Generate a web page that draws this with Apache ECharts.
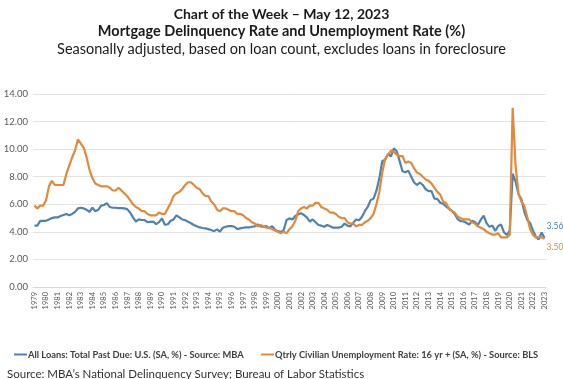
<!DOCTYPE html>
<html>
<head>
<meta charset="utf-8">
<script src="https://cdn.jsdelivr.net/npm/echarts@6/dist/echarts.min.js"></script>
<style>html,body{margin:0;padding:0;background:#fff}#c{width:563px;height:379px}</style>
</head>
<body>
<div id="c"></div>
<script>
// Quarterly data, 1979Q1 .. 2023Q1
var firstYear = 1979;
var lastYear = 2023;
var yTicks = [0, 2, 4, 6, 8, 10, 12, 14];

// MBA delinquency rate (All loans, total past due, SA, %)
var delinquency = [
  4.45, 4.45, 4.80, 4.80,   // 1979
  4.80, 4.90, 5.00, 5.05,   // 1980
  5.05, 5.15, 5.22, 5.30,   // 1981
  5.20, 5.30, 5.45, 5.70,   // 1982
  5.75, 5.70, 5.60, 5.46,   // 1983
  5.75, 5.50, 5.60, 5.90,   // 1984
  5.95, 6.08, 5.80, 5.75,   // 1985
  5.75, 5.72, 5.72, 5.70,   // 1986
  5.65, 5.40, 5.05, 4.75,   // 1987
  4.90, 4.86, 4.86, 4.70,   // 1988
  4.72, 4.74, 4.56, 4.70,   // 1989
  4.98, 4.52, 4.55, 4.80,   // 1990
  4.90, 5.20, 5.05, 4.90,   // 1991
  4.85, 4.74, 4.62, 4.50,   // 1992
  4.40, 4.32, 4.28, 4.25,   // 1993
  4.20, 4.13, 4.05, 4.18,   // 1994
  4.02, 4.30, 4.37, 4.42,   // 1995
  4.42, 4.37, 4.20, 4.25,   // 1996
  4.30, 4.32, 4.32, 4.37,   // 1997
  4.40, 4.54, 4.40, 4.37,   // 1998
  4.42, 4.25, 4.42, 4.15,   // 1999
  4.05, 4.00, 4.13, 4.86,   // 2000
  4.98, 4.90, 5.15, 5.27,   // 2001
  5.35, 5.22, 5.05, 4.75,   // 2002
  4.90, 4.70, 4.50, 4.45,   // 2003
  4.37, 4.50, 4.40, 4.30,   // 2004
  4.30, 4.30, 4.37, 4.60,   // 2005
  4.45, 4.40, 4.67, 4.90,   // 2006
  4.84, 5.10, 5.50, 5.82,   // 2007
  6.30, 6.41, 6.99, 7.88,   // 2008
  9.12, 9.24, 9.64, 9.47,   // 2009
  10.06, 9.85, 9.13, 8.40,  // 2010
  8.32, 8.44, 7.99, 7.58,   // 2011
  7.40, 7.58, 7.40, 7.09,   // 2012
  6.95, 6.96, 6.41, 6.39,   // 2013
  6.11, 6.04, 5.85, 5.68,   // 2014
  5.54, 5.30, 4.93, 4.77,   // 2015
  4.77, 4.66, 4.52, 4.80,   // 2016
  4.71, 4.50, 4.88, 5.17,   // 2017
  4.63, 4.36, 4.47, 4.06,   // 2018
  4.42, 4.53, 3.97, 3.77,   // 2019
  4.10, 8.22, 7.65, 6.73,   // 2020
  6.38, 5.47, 4.88, 4.65,   // 2021
  4.11, 3.64, 3.45, 3.96,   // 2022
  3.56                      // 2023
];

// Quarterly civilian unemployment rate, 16 yr + (SA, %)
var unemployment = [
  5.9, 5.7, 5.9, 5.9,   // 1979
  6.3, 7.3, 7.7, 7.4,   // 1980
  7.4, 7.4, 7.4, 8.2,   // 1981
  8.8, 9.4, 9.9, 10.7,  // 1982
  10.4, 10.1, 9.4, 8.5, // 1983
  7.9, 7.5, 7.4, 7.3,   // 1984
  7.3, 7.3, 7.2, 7.0,   // 1985
  7.0, 7.2, 7.0, 6.8,   // 1986
  6.6, 6.3, 6.0, 5.8,   // 1987
  5.7, 5.5, 5.5, 5.3,   // 1988
  5.2, 5.2, 5.2, 5.4,   // 1989
  5.3, 5.3, 5.7, 6.1,   // 1990
  6.6, 6.8, 6.9, 7.1,   // 1991
  7.4, 7.6, 7.6, 7.4,   // 1992
  7.2, 7.1, 6.8, 6.6,   // 1993
  6.6, 6.2, 6.0, 5.6,   // 1994
  5.5, 5.7, 5.7, 5.6,   // 1995
  5.5, 5.5, 5.3, 5.3,   // 1996
  5.2, 5.0, 4.9, 4.7,   // 1997
  4.6, 4.4, 4.5, 4.4,   // 1998
  4.3, 4.3, 4.2, 4.1,   // 1999
  4.0, 3.9, 4.0, 3.9,   // 2000
  4.2, 4.4, 4.8, 5.5,   // 2001
  5.7, 5.8, 5.7, 5.9,   // 2002
  5.9, 6.1, 6.1, 5.8,   // 2003
  5.7, 5.6, 5.4, 5.4,   // 2004
  5.3, 5.1, 5.0, 5.0,   // 2005
  4.7, 4.6, 4.6, 4.4,   // 2006
  4.5, 4.5, 4.7, 4.8,   // 2007
  5.0, 5.3, 6.0, 6.9,   // 2008
  8.3, 9.3, 9.6, 9.9,   // 2009
  9.8, 9.6, 9.5, 9.5,   // 2010
  9.0, 9.1, 9.0, 8.6,   // 2011
  8.3, 8.2, 8.0, 7.8,   // 2012
  7.7, 7.5, 7.2, 6.9,   // 2013
  6.7, 6.2, 6.1, 5.7,   // 2014
  5.5, 5.4, 5.1, 5.0,   // 2015
  4.9, 4.9, 4.9, 4.7,   // 2016
  4.6, 4.4, 4.3, 4.2,   // 2017
  4.0, 3.9, 3.8, 3.8,   // 2018
  3.9, 3.6, 3.6, 3.6,   // 2019
  3.8, 13.0, 8.8, 6.8,  // 2020
  6.2, 5.9, 5.1, 4.2,   // 2021
  3.8, 3.6, 3.6, 3.6,   // 2022
  3.5                   // 2023
];

var seriesNames = [
  'All Loans: Total Past Due: U.S. (SA, %) - Source: MBA',
  'Qtrly Civilian Unemployment Rate: 16 yr + (SA, %) - Source: BLS'
];

var categories = [];
for (var y = firstYear; y <= lastYear; y++) {
  for (var q = 1; q <= 4; q++) {
    if (y === lastYear && q > 1) break;
    categories.push(String(y) + '-Q' + q);
  }
}

var BLUE = '#4d82b3';
var ORANGE = '#e2893a';
var FONT = 'Lato, "Open Sans", sans-serif';
var legendText = {fontFamily: FONT, fontSize: 9.3, fontWeight: 'bold', color: '#404040', padding: [0, 0, 0, -4]};

var chart = echarts.init(document.getElementById('c'), null, {renderer: 'canvas'});
chart.setOption({
  animation: false,
  backgroundColor: '#ffffff',
  title: [
    {text: 'Chart of the Week – May 12, 2023', left: 'center', top: 2,
      textStyle: {fontFamily: FONT, fontSize: 14, fontWeight: 'bold', color: '#1a1a1a'}},
    {text: 'Mortgage Delinquency Rate and Unemployment Rate (%)', left: 'center', top: 19,
      textStyle: {fontFamily: FONT, fontSize: 14.5, fontWeight: 'bold', color: '#1a1a1a'}},
    {text: 'Seasonally adjusted, based on loan count, excludes loans in foreclosure', left: 'center', top: 37,
      textStyle: {fontFamily: FONT, fontSize: 14.5, fontWeight: 'normal', color: '#1a1a1a'}},
    {text: 'Source: MBA\u2019s National Delinquency Survey; Bureau of Labor Statistics', left: 2, top: 363,
      textStyle: {fontFamily: FONT, fontSize: 11.5, fontWeight: 'normal', color: '#333333'}}
  ],
  legend: [
    {left: 9, top: 345, itemWidth: 13, itemHeight: 2, icon: 'rect',
      textStyle: legendText, data: [seriesNames[0]]},
    {left: 256, top: 345, itemWidth: 13, itemHeight: 2, icon: 'rect',
      textStyle: legendText, data: [seriesNames[1]]}
  ],
  grid: {left: 33, right: 17, top: 94, bottom: 92, containLabel: false},
  xAxis: {
    type: 'category',
    data: categories,
    boundaryGap: true,
    axisLine: {show: true, lineStyle: {color: '#d9d9d9'}},
    axisTick: {show: false},
    axisLabel: {
      interval: 0,
      rotate: 90,
      margin: 5,
      fontFamily: FONT,
      fontSize: 7.5,
      color: '#595959',
      formatter: function (v, i) { return (i % 4 === 0) ? v.slice(0, 4) : ''; }
    },
    splitLine: {show: false}
  },
  yAxis: {
    type: 'value',
    min: yTicks[0], max: yTicks[yTicks.length - 1], interval: 2,
    axisLine: {show: false},
    axisTick: {show: false},
    axisLabel: {fontFamily: FONT, fontSize: 9.5, color: '#595959', margin: 5,
      formatter: function (v) { return v.toFixed(2); }},
    splitLine: {lineStyle: {color: '#e3e3e3', width: 1}}
  },
  series: [
    {
      name: seriesNames[0], type: 'line', data: delinquency,
      showSymbol: false, symbol: 'none',
      lineStyle: {color: BLUE, width: 2.2}, itemStyle: {color: BLUE},
      endLabel: {show: true, formatter: function (p) { return Number(p.value).toFixed(2); },
        color: BLUE, fontFamily: FONT, fontSize: 8.5, distance: 2, offset: [0, -12]},
      z: 2
    },
    {
      name: seriesNames[1], type: 'line', data: unemployment,
      showSymbol: false, symbol: 'none',
      lineStyle: {color: ORANGE, width: 2.2}, itemStyle: {color: ORANGE},
      endLabel: {show: true, formatter: function (p) { return Number(p.value).toFixed(2); },
        color: ORANGE, fontFamily: FONT, fontSize: 8.5, distance: 2, offset: [0, 9]},
      z: 3
    }
  ]
});
</script>
</body>
</html>
